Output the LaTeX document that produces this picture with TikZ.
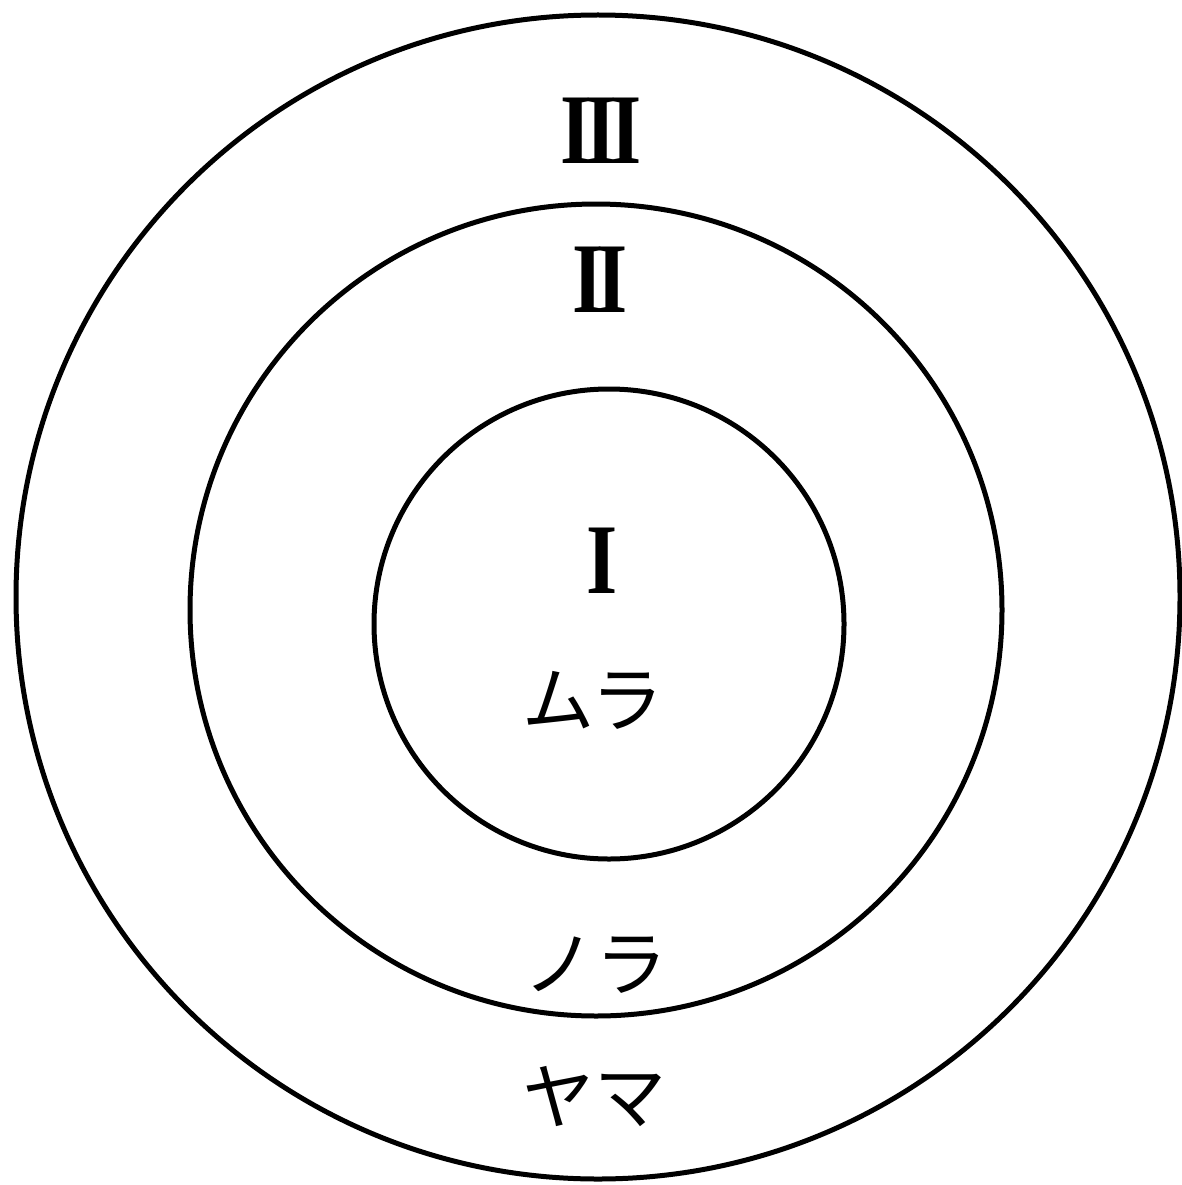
\documentclass[tikz,border=0pt]{standalone}
\usepackage{fontspec}
\newfontfamily\jp{Noto Sans CJK JP}
\newfontfamily\rom{Liberation Serif}
\tikzset{
  ring/.style={draw=black, line width=5pt},
  numeral/.style={inner sep=0pt, font=\rom\bfseries\fontsize{100}{100}\selectfont, xscale=0.8},
  kana/.style={inner sep=0pt, font=\jp\fontsize{72}{72}\selectfont}
}
\begin{document}
\begin{tikzpicture}[x=1pt,y=-1pt]
\useasboundingbox (0,0) rectangle (1182,1185);
\fill[white] (0,0) rectangle (1182,1185);
\node[ring, circle, minimum size=1164pt, inner sep=0pt] (outer) at (598,597) {};
\node[ring, circle, minimum size=812pt, inner sep=0pt] (middle) at (596,610) {};
\node[ring, circle, minimum size=470pt, inner sep=0pt] (inner) at (609,624) {};
\node[numeral] (n3) at (601,131) {I\kern-8ptI\kern-8ptI};
\node[numeral] (n2) at (600,280) {I\kern-8ptI};
\node[numeral] (n1) at (602,561) {I};
\node[kana] (mura) at (593,700) {ムラ};
\node[kana] (nora) at (595,965) {ノラ};
\node[kana] (yama) at (594,1097) {ヤマ};
\end{tikzpicture}
\end{document}
